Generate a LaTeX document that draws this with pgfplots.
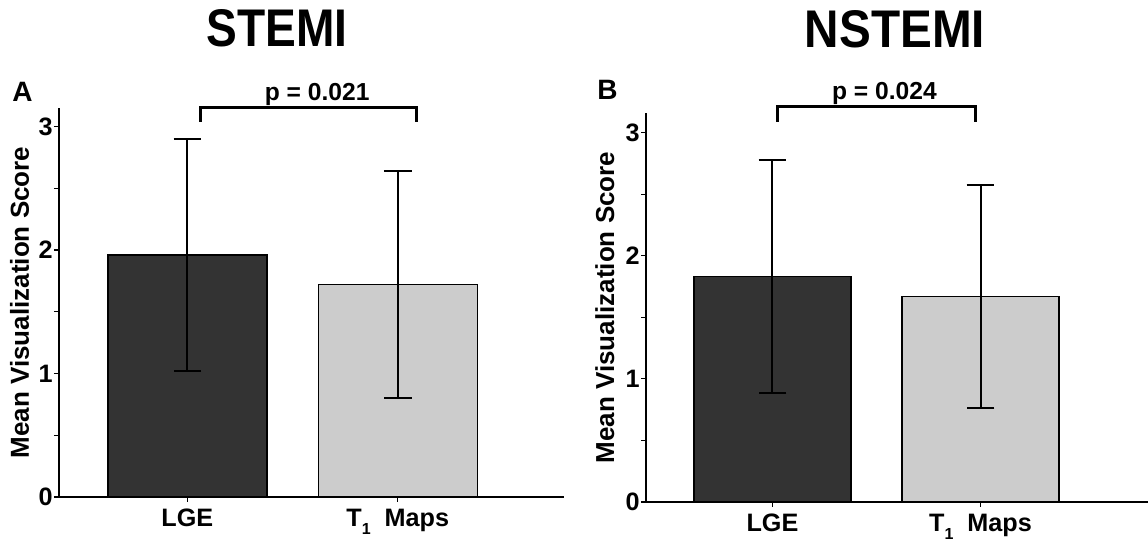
\documentclass[border=0pt]{standalone}
\usepackage{fontspec}
\setmainfont{Liberation Sans}
\usepackage{graphicx}
\usepackage{pgfplots}
\pgfplotsset{compat=1.18}

\definecolor{lgecol}{HTML}{333333}
\definecolor{tonecol}{HTML}{CCCCCC}

\pgfplotsset{
  vizscore/.style={
    scale only axis, anchor=south west,
    ymin=0,
    axis lines*=left,
    axis line style={line width=1pt},
    xtick={0,1},
    xticklabels={LGE, T\raisebox{-0.6ex}{\footnotesize 1}\hspace{0.55em}Maps},
    ytick={0,1,2,3},
    minor ytick={0.5,1.5,2.5},
    tick align=outside,
    major tick length=2.5pt, minor tick length=2.5pt,
    tick style={black, line width=0.6pt},
    tick label style={font=\bfseries\fontsize{12.6}{14}\selectfont},
    yticklabel style={inner sep=0.5pt},
    /pgf/number format/assume math mode=true,
    ylabel={Mean Visualization Score},
    ylabel style={font=\bfseries\fontsize{13}{15}\selectfont, anchor=center},
    clip=false,
    ybar,
  },
  errstyle/.style={
    error bars/.cd, y dir=both, y explicit,
    error bar style={line width=1pt, black},
    error mark options={rotate=90, mark size=6.9pt, line width=1pt, black},
  },
}

\begin{document}
\begin{tikzpicture}
\useasboundingbox (0,0) rectangle (574pt,272pt);

% panel A: STEMI
\begin{axis}[vizscore, at={(29.5pt,23.5pt)},
  width=252.5pt, height=194.5pt,
  xmin=-0.61, xmax=1.79, ymax=3.15, bar width=79.5pt,
  ylabel style={at={(axis description cs:-0.078,0.5)}}]
\addplot[fill=lgecol, draw=black, line width=0.7pt, bar shift=0pt, errstyle]
  coordinates {(0,1.96) +- (0,0.94)};
\addplot[fill=tonecol, draw=black, line width=0.7pt, bar shift=0pt, errstyle]
  coordinates {(1,1.72) +- (0,0.92)};
\draw[line width=1.5pt] (axis cs:0.064,3.04) -- (axis cs:0.064,3.155)
  -- (axis cs:1.09,3.155) -- (axis cs:1.09,3.04);
\node[anchor=base, font=\bfseries\fontsize{12.3}{14}\selectfont]
  at (axis cs:0.617,3.21) {p = 0.021};
\end{axis}

% panel B: NSTEMI
\begin{axis}[vizscore, at={(323pt,21pt)},
  width=251pt, height=194.5pt,
  xmin=-0.608, xmax=1.805, ymax=3.16, bar width=78.5pt,
  ylabel style={at={(axis description cs:-0.082,0.5)}}]
\addplot[fill=lgecol, draw=black, line width=0.7pt, bar shift=0pt, errstyle]
  coordinates {(0,1.83) +- (0,0.945)};
\addplot[fill=tonecol, draw=black, line width=0.7pt, bar shift=0pt, errstyle]
  coordinates {(1,1.67) +- (0,0.905)};
\draw[line width=1.5pt] (axis cs:0.026,3.09) -- (axis cs:0.026,3.21)
  -- (axis cs:0.978,3.21) -- (axis cs:0.978,3.09);
\node[anchor=base, font=\bfseries\fontsize{12.3}{14}\selectfont]
  at (axis cs:0.538,3.27) {p = 0.024};
\end{axis}

% titles and panel letters
\node[anchor=base, inner sep=0, font=\bfseries\fontsize{26.5}{30}\selectfont]
  at (138.5pt,248.5pt) {\scalebox{0.87}[1]{STEMI}};
\node[anchor=base, inner sep=0, font=\bfseries\fontsize{26.5}{30}\selectfont]
  at (447.5pt,248pt) {\scalebox{0.9}[1]{NSTEMI}};
\node[anchor=base west, inner sep=0, font=\bfseries\fontsize{14}{16}\selectfont]
  at (6pt,221pt) {A};
\node[anchor=base west, inner sep=0, font=\bfseries\fontsize{14}{16}\selectfont]
  at (298.5pt,222pt) {B};
\end{tikzpicture}
\end{document}
